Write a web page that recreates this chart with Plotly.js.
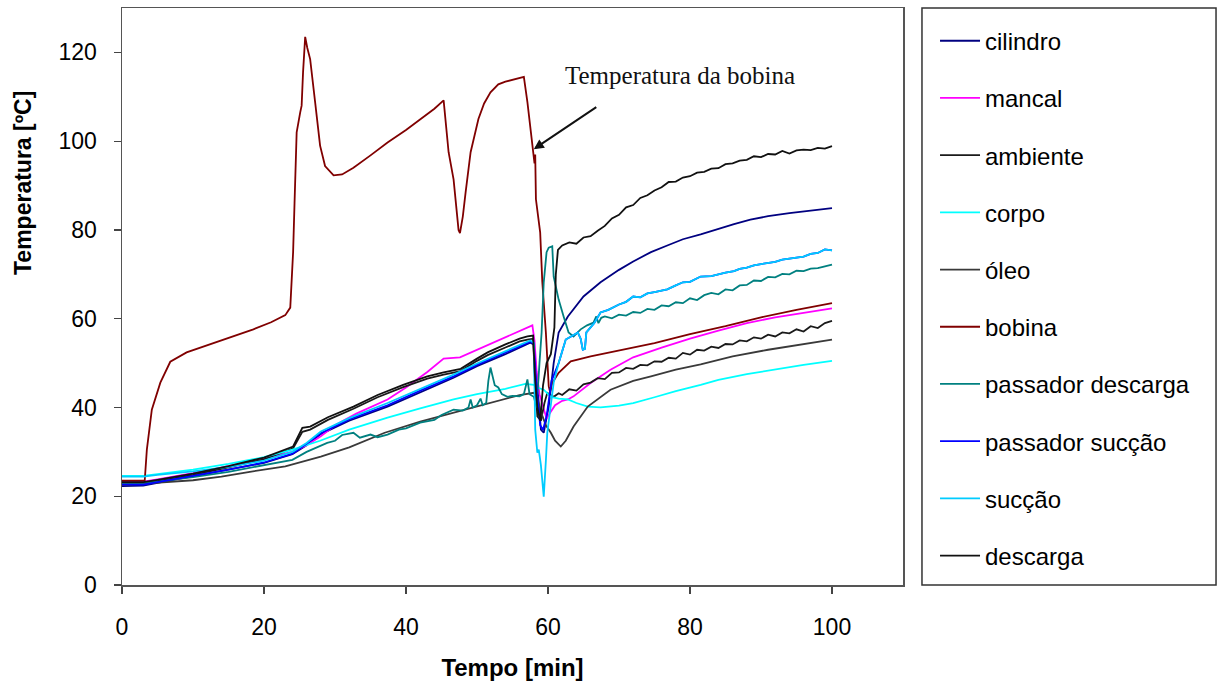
<!DOCTYPE html>
<html>
<head>
<meta charset="utf-8">
<script src="https://cdn.plot.ly/plotly-3.0.1.min.js"></script>
<style>html,body{margin:0;padding:0;background:#fff;}#chart{width:1218px;height:686px;}</style>
</head>
<body>
<div id="chart"></div>
<script>
// ---- data ----
const seriesNames = ['cilindro','mancal','ambiente','corpo','óleo','bobina','passador descarga','passador sucção','sucção','descarga'];

const tCilindro = [0,3,5,10,15,20,24,26,28,32,37.4,42,46.7,50,54,57.5,58,58.5,59,59.4,60.1,60.8,61.5,62.8,65,67.4,70,72,74.5,76.8,79,81.5,84,86.2,88.5,91,94,97,100];
const cilindro  = [22.3,22.4,23,24.5,26,27.5,29.5,31.5,34,37,40.2,43.5,46.7,49.3,52,54.6,54.2,45,35,34.3,40.2,50,56.9,60.5,65,68.2,71,72.9,75,76.5,77.9,79,80.3,81.3,82.3,83.1,83.8,84.4,84.9];

const tMancal = [0,3,5,10,15,20,24,26,28,30,33,37.4,40,43,45.3,47.6,50,53,56,57.8,58.1,58.4,58.8,59.3,59.8,60.3,61,62,62.8,63.6,66,68.8,72,76,80,84,88,92,96,100];
const mancal  = [23.3,23.3,23.8,25.2,26.8,28.5,30,31.5,33.5,36,38.6,41.8,44.5,48,51,51.3,53,55,57.2,58.5,55,48,43,40,37.5,38.8,40.5,41.5,41.8,42.5,45.5,48.5,51.3,53.5,55.5,57.3,59,60.3,61.3,62.3];

const tAmbiente = [0,3,5,10,15,20,24.1,25.4,26.5,29,32.6,36,39.6,43,45.3,47.7,50,51.5,54,56,57.1,57.9,58.2,58.5,59,59.5,59.9,60.8,61.5,62,63,64,65,66,67,68,69,70,71,72,73,74,75,76,77,78,79,80,81,82,83,84,85,86,87,88,89,90,91,92,93,94,95,96,97,98,99,100];
const ambiente  = [23,23,23.4,24.8,26.5,28.3,30.8,34.5,35,37.2,39.7,42.3,44.6,46.5,47.4,48.2,50.5,51.8,53.5,54.9,55.3,55.5,45,38,37,41,43.3,42.4,43.2,42.8,44.1,43.8,45.2,45.6,46.6,46.4,47.8,47.9,48.9,48.7,49.6,49.5,50.4,50.3,51.2,51.0,52.3,51.9,53.0,52.8,53.7,53.4,54.3,54.2,55.1,54.9,55.8,55.5,56.4,56.0,56.9,56.7,57.6,57.1,58.3,57.9,59.0,59.5];

const tCorpo = [0,3,5,10,15,20,24,27.9,32,37.4,42,46.7,50,54,56.8,58,58.5,59.4,60.4,61.5,62.8,64,65.6,67.4,70,72,75,78,81.5,84,88,92,96,100];
const corpo  = [24.6,24.6,25,26,27.3,28.8,30.5,32.5,35,37.7,39.8,41.8,43,44.2,45.3,45.1,44.5,44,42.4,42,41.8,41,40.2,40,40.4,41,42.3,43.7,45.1,46.2,47.5,48.6,49.6,50.5];

const tOleo = [0,5,10,14,18,23,26,28,32,37,42,47,52,56,58,58.5,59,59.7,60.4,61,61.8,62.5,63.6,65.6,68.8,72,74.5,78,81.5,86,91,95,100];
const oleo  = [22.5,23,23.6,24.4,25.5,26.7,28,28.9,31,34.3,36.8,39,41.2,42.8,43.3,42,39,36,34.3,32.5,31.2,32.5,35.7,40.2,44,46,47,48.5,49.7,51.5,53,54,55.3];

const tBobina = [0,3.2,3.5,4.2,5.4,6.8,9.1,11.5,13.8,16,18.5,21,23,23.7,24.1,24.3,24.6,25.1,25.3,25.5,25.8,26.1,26.5,27.2,27.9,28.6,29.8,31,32.6,35,37.4,40,42,44,45.3,46,46.7,47.4,47.6,48,48.4,49.1,50.2,51,51.9,53,54,55,56.6,57.1,57.8,58,58.1,58.2,58.3,58.9,59.2,59.7,60.1,60.3,60.6,61.5,63.2,66,70,75,80,85,90,95,100];
const bobina  = [23.5,23.5,30.5,39.5,45.6,50.3,52.4,53.7,54.9,56.2,57.6,59.2,60.8,62.5,75,86,102,106.5,108,115.5,123.5,121,118.5,108.8,99,94.4,92.3,92.5,94,96.8,99.7,102.5,104.8,107.3,109.2,97.5,91.4,80,79.3,83,88.5,97.5,105,108.5,111,112.8,113.4,113.8,114.5,108.8,98.9,96,95,97,86.9,79.4,68.2,56.9,44.8,43.5,45.5,47.8,50.4,51.5,52.8,54.5,56.5,58.3,60.3,62,63.5];

const tPassDesc = [0,3,5,10,15,20,24,26,28.9,30,31,32.6,33.5,35,36,37.4,39,40,42,44,45,46.7,48,48.8,49.1,49.4,50,50.5,50.8,51.3,51.6,51.9,52.2,52.5,53,53.5,54.3,55,56,56.6,57.1,57.4,58,58.4,58.8,59.1,59.4,59.8,60.1,60.6,60.8,61.5,62.2,62.9,63.6,64.6,65.5,66.4,66.8,67.1,67.5,68,69,70,71,72,73,74,75,76,77,78,79,80,81,82,83,84,85,86,87,88,89,90,91,92,93,94,95,96,97,98,99,100];
const passDesc  = [23,23,23.3,24.3,25.5,27,28.2,30,32,32.5,33.8,34.3,33.2,33.9,33.3,33.9,35,35.3,36.6,37.2,38.3,39.5,39.3,40,41.8,40,40.5,42,40.5,41,46,49,47,45,44.5,43,42.4,42.6,42.5,43,46.3,43,42.4,40,50,56.9,68.2,75,76,76.3,69.5,64.3,60.5,56.9,56,57.6,58.5,59.1,60.5,59,60.2,60.5,60.1,60.9,60.7,61.5,61.3,62.2,62.0,63.0,62.8,63.7,63.5,64.6,64.2,65.3,65.8,65.5,66.6,66.4,67.5,67.6,68.6,68.5,69.4,69.3,70.1,70.0,70.8,70.7,71.3,71.4,71.8,72.2];

const tPassSuc = [0,3,5,10,15,20,24,26,28,32,37.4,42,46.7,50,54,57.5,58,58.4,58.9,59.3,59.8,60.5,61.5,62.5,63.5,64.2,64.6,64.9,65.2,65.4,66.5,67.4,68.5,70,71,72,73,74,75,76.8,78,79,80,81.5,83,84,85,86.2,87,88,89,90,91,92,93,94,95,96,97,98,99,100];
const passSuc  = [22.6,22.6,23.2,24.6,26,27.6,29.6,31.8,34.2,37.3,40.5,43.8,47,49.6,52.3,54.8,54.4,44,36,35,38,46,50,55.3,56.2,56.9,55.5,53,53.2,56.9,59,61.4,62,63.2,63.8,65,64.8,65.7,66,66.6,67.5,68.2,68.3,69.5,69.6,70,70.4,70.7,71.2,71.5,72,72.3,72.5,72.8,73.3,73.5,73.8,74,74.6,74.8,75.6,75.4];

const tSuccao = [0,3,5,10,15,20,24,26,28,32,37.4,42,46.7,50,54,57.5,58,58.2,58.5,58.7,59,59.4,59.7,59.9,60.8,61.5,62.5,63.5,64.2,64.6,64.9,65.2,65.4,66.5,67.4,68.5,70,71,72,73,74,75,76.8,78,79,80,81.5,83,84,85,86.2,87,88,89,90,91,92,93,94,95,96,97,98,99,100];
const succao  = [24.4,24.4,24.8,25.6,26.6,28,30,32,34.6,37.6,41,44.1,47.4,49.9,52.6,55.1,54.6,35,29.8,30.5,27,19.9,28,34.3,45.6,50,55.3,56.2,56.9,55.5,53,53.2,56.9,59,61.4,62,63.2,63.8,65,64.8,65.7,66,66.6,67.5,68.2,68.3,69.5,69.6,70,70.4,70.7,71.2,71.5,72,72.3,72.5,72.8,73.3,73.5,73.8,74,74.6,74.8,75.6,75.4];

const tDescarga = [0,3,5,10,15,20,24.1,25.4,26.5,29,32.6,36,39.6,43,45.3,47.7,50,51.5,54,56,57.1,57.9,58.2,58.5,58.9,59.3,59.8,60.4,60.9,61.1,61.4,62,63,64,65,66,67,68,69,70,71,72,73,74,75,76,77,78,79,80,81,82,83,84,85,86,87,88,89,90,91,92,93,94,95,96,97,98,99,100];
const descarga  = [23.2,23.2,23.7,25.1,26.8,28.7,31.2,35.4,35.7,37.8,40.2,42.8,45.1,47,47.9,48.7,51,52.4,54.2,55.5,56,56.2,46,40,37,45,50,52,58,70,75.5,76.5,77.2,76.9,78.3,78.6,79.8,80.9,82.6,83.4,85.1,85.6,87.2,87.8,88.9,89.6,90.8,90.9,91.8,92.1,92.9,93.1,93.8,93.9,94.8,95.0,95.6,95.8,96.6,96.4,97.1,97.0,97.8,97.2,97.9,98.1,98.0,98.5,98.3,98.9];

const xTicks = [0,20,40,60,80,100];
const yTicks = [0,20,40,60,80,100,120];
const annotationText = 'Temperatura da bobina';
const xTitle = 'Tempo [min]';
const yTitle = 'Temperatura [ºC]';

// ---- styles ----
const colors = ['#000080','#ff00ff','#1a1a1a','#00ffff','#3a3a3a','#800000','#008080','#0000ff','#00ccff','#111111'];
const xs = [tCilindro,tMancal,tAmbiente,tCorpo,tOleo,tBobina,tPassDesc,tPassSuc,tSuccao,tDescarga];
const ys = [cilindro,mancal,ambiente,corpo,oleo,bobina,passDesc,passSuc,succao,descarga];

const traces = seriesNames.map((n,i)=>({
  type:'scatter', mode:'lines', name:n, x:xs[i], y:ys[i],
  line:{color:colors[i], width:1.8},
  legendgroup:'g'+i, hoverinfo:'x+y+name'
}));

const FONT = 'Liberation Sans, Arial, sans-serif';
const layout = {
  width:1218, height:686,
  margin:{l:122, r:315, t:8, b:101},
  paper_bgcolor:'#ffffff', plot_bgcolor:'#ffffff',
  font:{family:FONT, size:23, color:'#000'},
  showlegend:true,
  legend:{x:1.041, xanchor:'left', y:0.9815, yanchor:'top', bgcolor:'rgba(0,0,0,0)', borderwidth:0,
          font:{family:FONT, size:24, color:'#000'}, tracegroupgap:23, itemwidth:40},
  xaxis:{range:[0,110], tickvals:xTicks, ticks:'outside', ticklen:7, tickwidth:1.2, tickcolor:'#444',
         showline:true, mirror:true, linecolor:'#555', linewidth:1.5, showgrid:false, zeroline:false,
         tickfont:{family:FONT, size:23, color:'#000'}, ticklabelstandoff:14,
         title:{text:'<b>'+xTitle+'</b>', font:{family:FONT, size:24, color:'#000'}, standoff:20}},
  yaxis:{range:[0,130], tickvals:yTicks, ticks:'outside', ticklen:7, tickwidth:1.2, tickcolor:'#444',
         showline:true, mirror:true, linecolor:'#555', linewidth:1.5, showgrid:false, zeroline:false,
         tickfont:{family:FONT, size:23, color:'#000'}, ticklabelstandoff:12},
  shapes:[{type:'rect', xref:'paper', yref:'paper', x0:1.0243, x1:1.4008, y0:0, y1:1,
           line:{color:'#333', width:1.5}, fillcolor:'rgba(0,0,0,0)'}],
  annotations:[
    {xref:'paper', yref:'paper', x:-0.1268, y:0.6967, xanchor:'center', yanchor:'middle', textangle:-90,
     showarrow:false, text:'<b>'+yTitle+'</b>', font:{family:FONT, size:23, color:'#000'}},
    {xref:'x', yref:'y', x:58, y:98.2, ax:64, ay:-43, axref:'pixel', ayref:'pixel', text:'', showarrow:true,
     arrowhead:2, arrowsize:1, arrowwidth:2, arrowcolor:'#111', standoff:0},
    {xref:'x', yref:'y', x:78.6, y:114.9, xanchor:'center', yanchor:'middle', showarrow:false,
     text:annotationText, font:{family:'Liberation Serif, Times New Roman, serif', size:25, color:'#111'}}
  ]
};

Plotly.newPlot('chart', traces, layout, {displayModeBar:false, staticPlot:true});
</script>
</body>
</html>
